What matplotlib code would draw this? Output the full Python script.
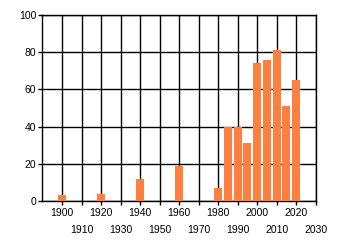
import matplotlib.pyplot as plt

years = [1900, 1920, 1940, 1960, 1980, 1985, 1990, 1995, 2000, 2005, 2010, 2015, 2020]
values = [3, 4, 12, 19, 7, 40, 40, 31, 74, 76, 81, 51, 65]
row1_ticks = [1900, 1920, 1940, 1960, 1980, 2000, 2020]
row2_ticks = [1910, 1930, 1950, 1970, 1990, 2010, 2030]
y_ticks = [0, 20, 40, 60, 80, 100]

plt.rcParams['font.family'] = 'Liberation Sans'
plt.rcParams['font.size'] = 7.5

fig = plt.figure(figsize=(3.4, 2.45), dpi=100)
ax = fig.add_axes([42 / 340, 44 / 245, 273.6 / 340, 186 / 245])

ax.bar(years, values, width=4, color='#ff7f41', zorder=3)

ax.set_xlim(1889.6, 2030)
ax.set_ylim(0, 100)

ax.set_xticks(row1_ticks)
ax.set_xticks(row2_ticks, minor=True)
ax.set_xticklabels([str(t) for t in row1_ticks])
ax.set_xticklabels([str(t) for t in row2_ticks], minor=True)
ax.set_yticks(y_ticks)

ax.tick_params(axis='x', which='major', length=3, width=1, pad=2)
ax.tick_params(axis='x', which='minor', length=3, width=1, pad=14)
ax.tick_params(axis='y', length=3, width=1, pad=1)

ax.grid(True, which='both', color='black', linewidth=1, zorder=1)
for s in ax.spines.values():
    s.set_linewidth(1)
    s.set_color('black')

fig.savefig('out.png', dpi=100)
